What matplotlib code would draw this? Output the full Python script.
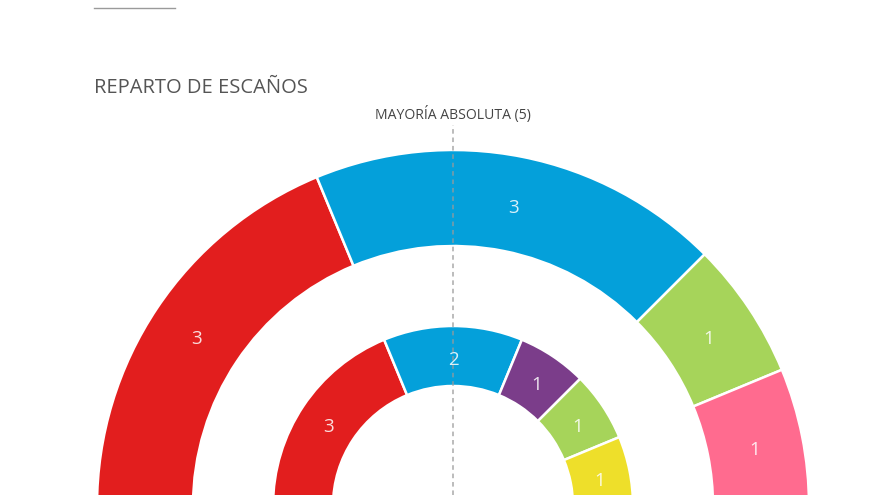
import numpy as np
import matplotlib
matplotlib.use('Agg')
import matplotlib.pyplot as plt

# seats per party, outer ring and inner ring
outer_seats = [3, 3, 1, 1]
outer_colors = ['#E21E1E', '#04A0DA', '#A6D45A', '#FF6B8F']
inner_seats = [3, 2, 1, 1, 1]
inner_colors = ['#E21E1E', '#04A0DA', '#7B3D8A', '#A6D45A', '#EEDF2A']
majority = 5

title = 'REPARTO DE ESCAÑOS'
majority_label = f'MAYORÍA ABSOLUTA ({majority})'

plt.rcParams['font.family'] = ['Open Sans', 'DejaVu Sans']

fig = plt.figure(figsize=(8.8, 4.95), dpi=100)
ax = fig.add_axes([0, 0, 1, 1])

cx, cy = 453, -11   # centre of the hemicycle, pixel coords with y up


def ring(seats, colors, r_out, r_in):
    vals = list(seats) + [sum(seats)]  # hidden lower half
    cols = list(colors) + ['none']
    wedges, _ = ax.pie(vals, colors=cols, startangle=180, counterclock=False,
                       center=(cx, cy), radius=r_out,
                       wedgeprops=dict(width=r_out - r_in, edgecolor='white', linewidth=1.8))
    wedges[-1].set_visible(False)
    r_mid = (r_out + r_in) / 2
    for w, n in zip(wedges[:-1], seats):
        a = np.deg2rad((w.theta1 + w.theta2) / 2)
        ax.text(cx + r_mid * np.cos(a), cy + r_mid * np.sin(a) - 4, str(n),
                ha='center', va='center', color='white', alpha=0.85,
                fontsize=13.5, zorder=5)


ring(outer_seats, outer_colors, 356, 260)
ring(inner_seats, inner_colors, 180, 120)

# majority line
ax.plot([cx, cx], [0, 495 - 125], color='#9a9a9a', lw=1.1, ls=(0, (3, 2.5)), alpha=0.85, zorder=4)
ax.text(cx, 495 - 115, majority_label, ha='center', va='center', fontsize=10.1, color='#444444')

# header
ax.plot([94, 175], [495 - 8, 495 - 8], color='#9a9a9a', lw=1)
ax.text(94, 495 - 88, title, ha='left', va='center', fontsize=14.5, color='#555555')

ax.set_xlim(0, 880)
ax.set_ylim(0, 495)
ax.set_aspect('auto')
ax.axis('off')

fig.savefig('out.png', dpi=100, facecolor='white')
